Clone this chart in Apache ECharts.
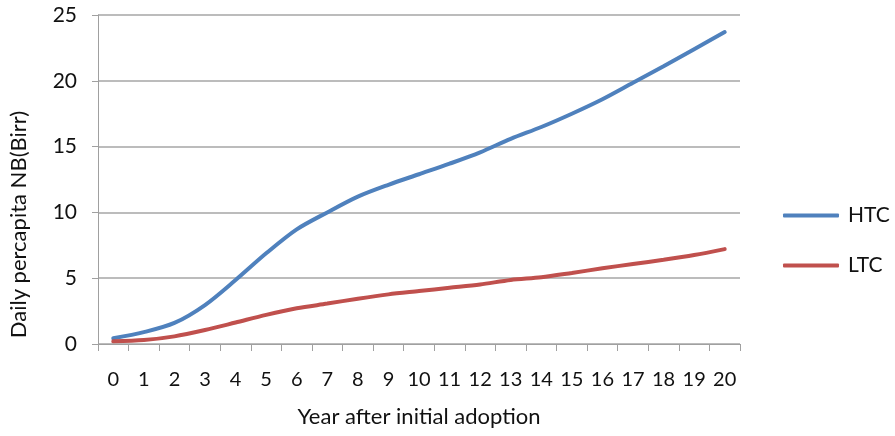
<!DOCTYPE html>
<html>
<head>
<meta charset="utf-8">
<script src="https://cdn.jsdelivr.net/npm/echarts@6/dist/echarts.min.js"></script>
<style>
  html, body { margin: 0; padding: 0; background: #fff; }
  #main { width: 895px; height: 436px; }
</style>
</head>
<body>
<div id="main"></div>
<script>
// years after adoption
var years = ['0','1','2','3','4','5','6','7','8','9','10','11','12','13','14','15','16','17','18','19','20'];
// daily per capita NB (Birr)
var htc = [0.43, 0.9, 1.6, 2.96, 4.86, 6.89, 8.71, 10.0, 11.2, 12.1, 12.9, 13.7, 14.56, 15.59, 16.49, 17.5, 18.6, 19.85, 21.1, 22.4, 23.7];
var ltc = [0.2, 0.3, 0.58, 1.06, 1.63, 2.21, 2.71, 3.07, 3.44, 3.77, 4.02, 4.27, 4.52, 4.87, 5.07, 5.4, 5.75, 6.08, 6.4, 6.76, 7.21];
var yTicks = { min: 0, max: 25, interval: 5 };

var font = 'Lato, Open Sans, sans-serif';
var chart = echarts.init(document.getElementById('main'));
var option = {
    animation: false,
    textStyle: { fontFamily: font, color: '#111' },
    grid: { left: 98, right: 155, top: 15, bottom: 92, outerBoundsMode: 'none' },
    legend: {
        orient: 'vertical',
        left: 778,
        top: 200,
        itemWidth: 56,
        itemHeight: 4,
        itemGap: 29,
        icon: 'roundRect',
        textStyle: { fontSize: 21, color: '#111', fontFamily: font, padding: [0, 0, 0, 4] },
        data: ['HTC', 'LTC']
    },
    xAxis: {
        type: 'category',
        data: years,
        boundaryGap: true,
        name: 'Year after initial adoption',
        nameLocation: 'middle',
        nameGap: 62,
        nameTextStyle: { fontSize: 22, color: '#111' },
        axisLine: { lineStyle: { color: '#a0a0a0', width: 1 } },
        axisTick: { show: true, length: 7, interval: 0, lineStyle: { color: '#a0a0a0' } },
        axisLabel: { fontSize: 20, color: '#111', margin: 26, interval: 0, hideOverlap: false },
        splitLine: { show: false }
    },
    yAxis: {
        type: 'value',
        min: yTicks.min,
        max: yTicks.max,
        interval: yTicks.interval,
        name: 'Daily percapita NB(Birr)',
        nameLocation: 'middle',
        nameRotate: 90,
        nameGap: 68,
        nameTextStyle: { fontSize: 22, color: '#111', padding: [0, 90, 0, 0] },
        axisLine: { show: true, lineStyle: { color: '#a0a0a0', width: 1 } },
        axisTick: { show: true, length: 6, lineStyle: { color: '#a0a0a0' } },
        axisLabel: { fontSize: 21, color: '#111', margin: 21 },
        splitLine: { lineStyle: { color: '#a6a6a6', width: 1.5 } }
    },
    series: [
        {
            name: 'HTC',
            type: 'line',
            data: htc,
            smooth: 0.3,
            showSymbol: false,
            lineStyle: { color: '#4f81bd', width: 4, cap: 'round' },
            itemStyle: { color: '#4f81bd' }
        },
        {
            name: 'LTC',
            type: 'line',
            data: ltc,
            smooth: 0.3,
            showSymbol: false,
            lineStyle: { color: '#c0504d', width: 4, cap: 'round' },
            itemStyle: { color: '#c0504d' }
        }
    ]
};
chart.setOption(option);
</script>
</body>
</html>
